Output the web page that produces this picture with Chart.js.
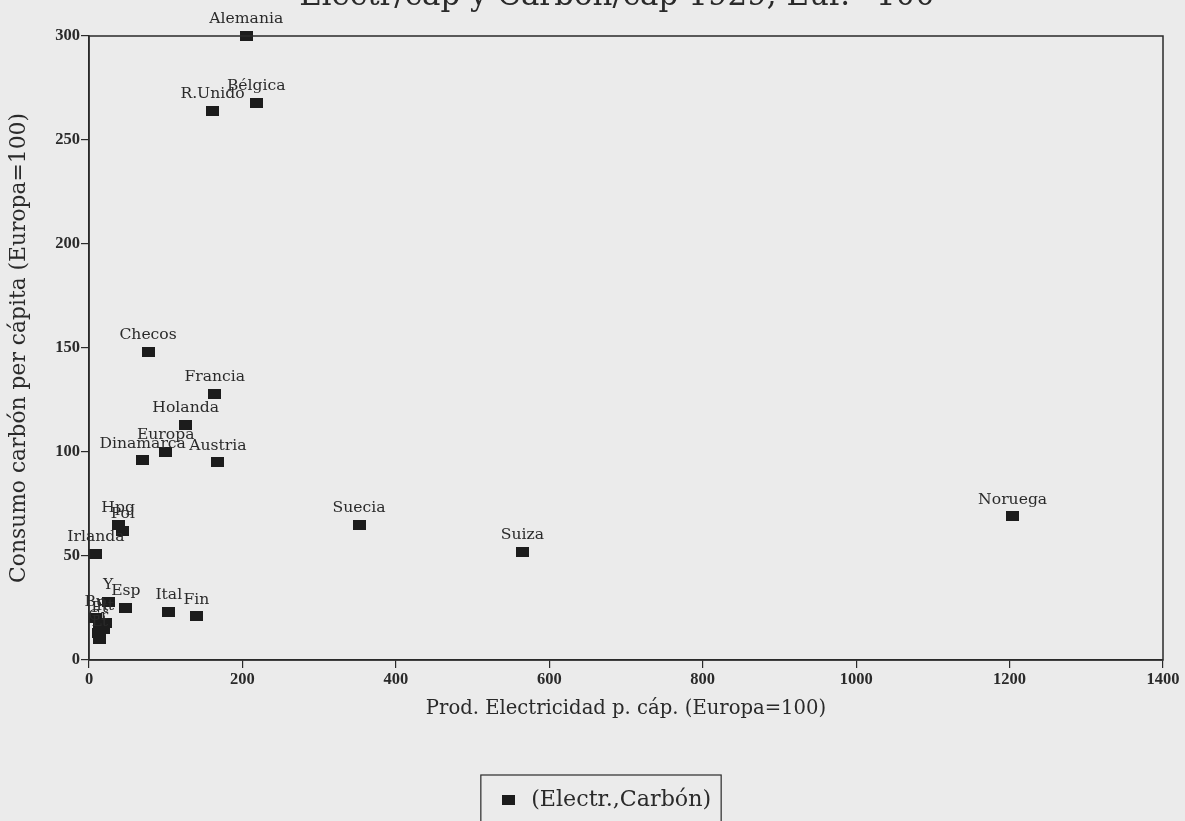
<!DOCTYPE html>
<html>
<head>
<meta charset="utf-8">
<script src="https://cdn.jsdelivr.net/npm/chart.js@4/dist/chart.umd.min.js"></script>
<style>
  html, body { margin: 0; padding: 0; background: #ebebeb; }
  #wrap { width: 1185px; height: 821px; position: relative; }
</style>
</head>
<body>
<div id="wrap"><canvas id="chartElectr"></canvas></div>
<script>
// datos (Europa = 100)
const paises = ["Alemania", "Bélgica", "R.Unido", "Checos", "Francia", "Holanda", "Europa",
    "Dinamarca", "Austria", "Suecia", "Suiza", "Noruega", "Hpg", "Pol", "Irlanda", "Y", "Esp",
    "Ital", "Fin", "Bu", "Pt", "Rt", "Gr", "Lt", ""];
const electr = [205, 218, 161, 77, 164, 126, 100, 70, 168, 352, 565, 1204, 38, 44, 9, 25, 48,
    104, 140, 8, 14, 21, 12, 14, 19];
const carbon = [300, 268, 264, 148, 128, 113, 100, 96, 95, 65, 52, 69, 65, 62, 51, 28, 25,
    23, 21, 20, 17, 18, 13, 10, 15];
const xTicks = [0, 200, 400, 600, 800, 1000, 1200, 1400];
const yTicks = [0, 50, 100, 150, 200, 250, 300];
const titulo = "Electr/cap y Carbón/cap 1929, Eur.=100";
const tituloX = "Prod. Electricidad p. cáp. (Europa=100)";
const tituloY = "Consumo carbón per cápita (Europa=100)";
const leyenda = "(Electr.,Carbón)";

const d = document;
const ctxE = d.getElementById("chartElectr");
const serif = "'DejaVu Serif', 'Liberation Serif', serif";
const serifTicks = "'Liberation Serif', 'DejaVu Serif', serif";
const ink = "#2a2a2a";

// tamaño de letra para que el texto ocupe el ancho que tiene en el original
const medidor = d.createElement("canvas").getContext("2d");
const ajustar = (txt, ancho, peso, fam) => {
    medidor.font = (peso || "normal") + " 20px " + (fam || serif);
    return Math.round(20 * ancho / medidor.measureText(txt).width * 10) / 10;
};
const fTitulo = ajustar(titulo, 635);
const fTituloX = ajustar(tituloX, 400);
const fTituloY = ajustar(tituloY, 470);
const fLeyenda = ajustar(leyenda, 180);
const fEtiq = ajustar("Alemania", 74);
const fTicks = ajustar("1400", 33, "bold", serifTicks);

// marcador rectangular
const marca = d.createElement("canvas");
marca.width = 13; marca.height = 10;
const mc = marca.getContext("2d");
mc.fillStyle = "#1c1c1c";
mc.fillRect(0, 0, 13, 10);

const puntos = electr.map((x, i) => ({ x: x, y: carbon[i] }));

const pluginMarco = {
    id: "marco",
    afterLayout: chart => {
        // la leyenda del original esta algo a la derecha del centro
        const lg = chart.legend;
        if (lg) {
            lg.left += 23; lg.right += 23;
            (lg.legendHitBoxes || []).forEach(h => { h.left += 23; });
        }
    },
    beforeDraw: chart => {
        const c = chart.ctx;
        c.save();
        c.fillStyle = "#ebebeb";
        c.fillRect(0, 0, chart.width, chart.height);
        c.restore();
    },
    afterDraw: chart => {
        const c = chart.ctx, a = chart.chartArea;
        c.save();
        c.strokeStyle = ink;
        c.lineWidth = 1.5;
        c.strokeRect(a.left, a.top, a.right - a.left, a.bottom - a.top);
        // titulo (cortado arriba, como en el original)
        c.fillStyle = ink;
        c.font = fTitulo + "px " + serif;
        c.textAlign = "center";
        c.textBaseline = "alphabetic";
        c.fillText(titulo, 617, 5);
        // caja de la leyenda
        const hb = chart.legend.legendHitBoxes[0];
        if (hb) {
            c.lineWidth = 1.2;
            const l = hb.left - 17, r = hb.left + hb.width + 10;
            c.strokeRect(l, 775, r - l, 60);
        }
        c.restore();
    },
};

const pluginEtiquetas = {
    id: "etiquetas",
    afterDatasetsDraw: chart => {
        const c = chart.ctx;
        const meta = chart.getDatasetMeta(0);
        c.save();
        c.fillStyle = ink;
        c.font = fEtiq + "px " + serif;
        c.textAlign = "center";
        c.textBaseline = "bottom";
        meta.data.forEach((pt, i) => {
            if (paises[i]) c.fillText(paises[i], pt.x, pt.y - 9);
        });
        c.restore();
    },
};

const chartElectr = new Chart(ctxE, {
    type: "scatter",
    data: {
        datasets: [
            {
                label: leyenda,
                data: puntos,
                pointStyle: marca,
                backgroundColor: "#1c1c1c",
                borderColor: "#1c1c1c",
                clip: false,
            },
        ],
    },
    options: {
        responsive: true,
        maintainAspectRatio: false,
        animation: false,
        devicePixelRatio: 1,
        layout: { padding: { top: 36, right: 22, left: 0, bottom: 0 } },
        plugins: {
            tooltip: { enabled: false },
            title: { display: false },
            legend: {
                display: true,
                position: "bottom",
                labels: {
                    usePointStyle: true,
                    color: ink,
                    font: { family: serif, size: fLeyenda },
                    padding: 14,
                },
            },
        },
        scales: {
            x: {
                type: "linear",
                min: 0,
                max: 1400,
                afterBuildTicks: s => { s.ticks = xTicks.map(v => ({ value: v })); },
                afterFit: s => {
                    const lh = s.chart.legend ? s.chart.legend.height : 0;
                    s.height = 821 - 660 - lh;
                },
                grid: { drawOnChartArea: false, drawTicks: true, tickLength: 8, color: ink, lineWidth: 1.2 },
                border: { color: ink, width: 1.5 },
                ticks: {
                    color: ink,
                    font: { family: serifTicks, size: fTicks, weight: "bold" },
                    padding: 2,
                    maxRotation: 0,
                    callback: v => String(v),
                },
                title: {
                    display: true,
                    text: tituloX,
                    color: ink,
                    font: { family: serif, size: fTituloX },
                    padding: { top: 2, bottom: 54 },
                },
            },
            y: {
                type: "linear",
                min: 0,
                max: 300,
                afterBuildTicks: s => { s.ticks = yTicks.map(v => ({ value: v })); },
                afterFit: s => { s.width = 89; },
                grid: { drawOnChartArea: false, drawTicks: true, tickLength: 8, color: ink, lineWidth: 1.2 },
                border: { color: ink, width: 1.5 },
                ticks: {
                    color: ink,
                    font: { family: serifTicks, size: fTicks, weight: "bold" },
                    padding: 1,
                    callback: v => String(v),
                },
                title: {
                    display: true,
                    text: tituloY,
                    color: ink,
                    font: { family: serif, size: fTituloY },
                    padding: { top: 6, bottom: 8 },
                },
            },
        },
    },
    plugins: [pluginMarco, pluginEtiquetas],
});
</script>
</body>
</html>
